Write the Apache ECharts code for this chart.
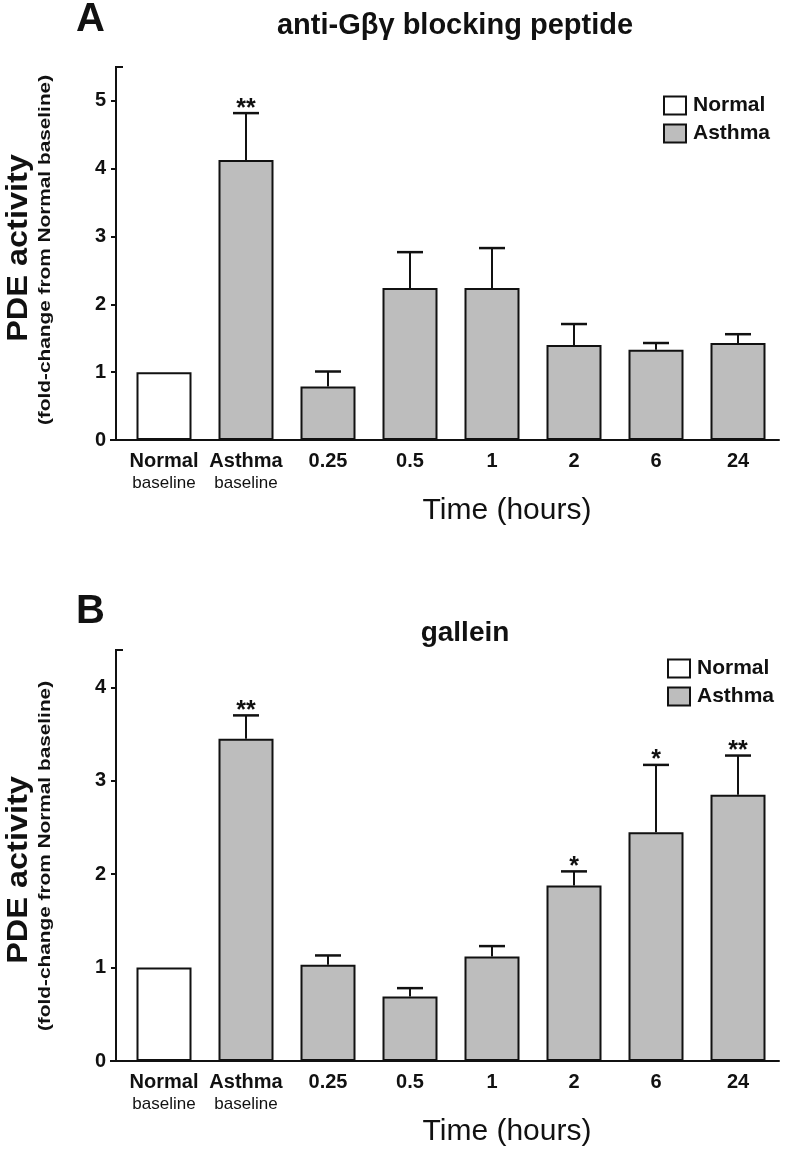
<!DOCTYPE html>
<html>
<head>
<meta charset="utf-8">
<script src="https://cdn.jsdelivr.net/npm/echarts@6/dist/echarts.min.js"></script>
<style>
html,body{margin:0;padding:0;background:#fff;}
#chart{width:792px;height:1152px;}
</style>
</head>
<body>
<div id="chart"></div>
<script>
// ---- data ----
const categories = ['Normal\nbaseline', 'Asthma\nbaseline', '0.25', '0.5', '1', '2', '6', '24'];
const groupOf = ['Normal', 'Asthma', 'Asthma', 'Asthma', 'Asthma', 'Asthma', 'Asthma', 'Asthma'];

const meanA = [1.00, 4.13, 0.79, 2.24, 2.24, 1.40, 1.33, 1.43];
const errA  = [0.00, 0.69, 0.22, 0.53, 0.59, 0.31, 0.10, 0.13];
const sigA  = ['', '**', '', '', '', '', '', ''];

const meanB = [1.00, 3.45, 1.03, 0.69, 1.12, 1.88, 2.45, 2.85];
const errB  = [0.00, 0.25, 0.10, 0.09, 0.11, 0.15, 0.72, 0.42];
const sigB  = ['', '**', '', '', '', '*', '*', '**'];

const yTicksA = [0, 1, 2, 3, 4, 5];
const yTicksB = [0, 1, 2, 3, 4];

const titleA = 'anti-Gβγ blocking peptide';
const titleB = 'gallein';
const yName = 'PDE activity';
const ySub = '(fold-change from Normal baseline)';
const xName = 'Time (hours)';

// ---- styles ----
const FONT = '"Liberation Sans", Arial, Helvetica, sans-serif';
const INK = '#111';
const GRAY = '#bdbdbd';

function seriesFor(means, group) {
  return means.map((v, i) => groupOf[i] === group ? v : '-');
}

function xAxisFor(gridIndex) {
  return {
    type: 'category', gridIndex, data: categories,
    axisLine: { lineStyle: { color: INK, width: 2 } },
    axisTick: { alignWithLabel: true, length: 4, lineStyle: { color: INK, width: 2 } },
    axisLabel: {
      margin: 10, interval: 0, color: INK,
      formatter: v => {
        const p = v.split('\n');
        return p.length > 1 ? '{b|' + p[0] + '}\n{s|' + p[1] + '}' : '{b|' + v + '}';
      },
      rich: {
        b: { fontFamily: FONT, fontWeight: 'bold', fontSize: 20, lineHeight: 22, color: INK },
        s: { fontFamily: FONT, fontSize: 17, lineHeight: 22, color: INK }
      }
    },
    name: xName, nameLocation: 'middle', nameGap: 56,
    nameTextStyle: { fontFamily: FONT, fontSize: 30, color: INK, padding: [0, 0, 0, 112] }
  };
}

function yAxisFor(gridIndex, max, ticks) {
  return {
    type: 'value', gridIndex, min: 0, max: max, interval: 1, offset: 7,
    splitLine: { show: false },
    axisLine: { show: true, lineStyle: { color: INK, width: 2 } },
    axisTick: { show: true, length: 5, customValues: ticks, lineStyle: { color: INK, width: 2 } },
    axisLabel: { customValues: ticks, margin: 10, fontFamily: FONT, fontWeight: 'bold', fontSize: 20, color: INK }
  };
}

function errSeries(idx, means, errs, sigs) {
  return {
    type: 'custom', xAxisIndex: idx, yAxisIndex: idx, z: 5,
    data: means.map((m, i) => [i, m, m + errs[i]]),
    encode: { x: 0, y: 2 },
    renderItem: (params, api) => {
      const i = api.value(0), m = api.value(1), t = api.value(2);
      const p0 = api.coord([i, m]);
      const p1 = api.coord([i, t]);
      const children = [];
      if (t > m) {
        children.push({ type: 'line', shape: { x1: p0[0], y1: p0[1], x2: p1[0], y2: p1[1] }, style: { stroke: INK, lineWidth: 2 } });
        children.push({ type: 'line', shape: { x1: p1[0] - 13, y1: p1[1], x2: p1[0] + 13, y2: p1[1] }, style: { stroke: INK, lineWidth: 2.5 } });
      }
      const s = sigs[params.dataIndex];
      if (s) {
        children.push({ type: 'text', x: p1[0], y: p1[1] + 8, style: { text: s, font: 'bold 25px ' + FONT, fill: INK, align: 'center', verticalAlign: 'bottom' } });
      }
      return { type: 'group', children };
    },
    silent: true
  };
}

function barSeries(idx, name, means, color) {
  return {
    type: 'bar', name, xAxisIndex: idx, yAxisIndex: idx,
    data: seriesFor(means, name), barWidth: 55, barGap: '-100%',
    itemStyle: { color, borderColor: INK, borderWidth: 2 }
  };
}

const legendBase = {
  orient: 'vertical', icon: 'rect', itemWidth: 22, itemHeight: 18, itemGap: 7,
  data: ['Normal', 'Asthma'], selectedMode: false,
  itemStyle: { borderColor: INK, borderWidth: 2 },
  textStyle: { fontFamily: FONT, fontWeight: 'bold', fontSize: 21, color: INK, padding: [0, 0, 0, 2] }
};

function vText(x, y, text, font, sx) {
  return { type: 'text', x, y, rotation: Math.PI / 2, scaleX: sx, style: { text, font, fill: INK, align: 'center', verticalAlign: 'middle' } };
}

function seg(x1, y1, x2, y2) {
  return { type: 'line', shape: { x1, y1, x2, y2 }, style: { stroke: INK, lineWidth: 2 } };
}

const chart = echarts.init(document.getElementById('chart'), null, { renderer: 'canvas' });
chart.setOption({
  backgroundColor: '#fff',
  animation: false,
  title: [
    { text: 'A', left: 71, top: -5, textStyle: { fontFamily: FONT, fontWeight: 'bold', fontSize: 40, color: INK } },
    { text: titleA, left: 450, top: 6, textAlign: 'center', textStyle: { fontFamily: FONT, fontWeight: 'bold', fontSize: 29, color: INK } },
    { text: 'B', left: 71, top: 587, textStyle: { fontFamily: FONT, fontWeight: 'bold', fontSize: 40, color: INK } },
    { text: titleB, left: 460, top: 614, textAlign: 'center', textStyle: { fontFamily: FONT, fontWeight: 'bold', fontSize: 28, color: INK } }
  ],
  legend: [
    Object.assign({ left: 658, top: 90 }, legendBase),
    Object.assign({ left: 662, top: 653 }, legendBase)
  ],
  grid: [
    { left: 123, top: 67, width: 656, height: 373 },
    { left: 123, top: 650, width: 656, height: 411 }
  ],
  xAxis: [xAxisFor(0), xAxisFor(1)],
  yAxis: [yAxisFor(0, 5.5, yTicksA), yAxisFor(1, 4.4, yTicksB)],
  series: [
    barSeries(0, 'Normal', meanA, '#ffffff'),
    barSeries(0, 'Asthma', meanA, GRAY),
    errSeries(0, meanA, errA, sigA),
    barSeries(1, 'Normal', meanB, '#ffffff'),
    barSeries(1, 'Asthma', meanB, GRAY),
    errSeries(1, meanB, errB, sigB)
  ],
  graphic: [
    vText(19, 248, yName, 'bold 29px ' + FONT, 1.12),
    vText(46, 250, ySub, 'bold 16px ' + FONT, 1.3),
    vText(19, 870, yName, 'bold 29px ' + FONT, 1.12),
    vText(46, 856, ySub, 'bold 16px ' + FONT, 1.3),
    seg(110, 440, 124, 440),
    seg(110, 1061, 124, 1061),
    seg(115, 67, 123, 67),
    seg(115, 650, 123, 650)
  ]
});
</script>
</body>
</html>
